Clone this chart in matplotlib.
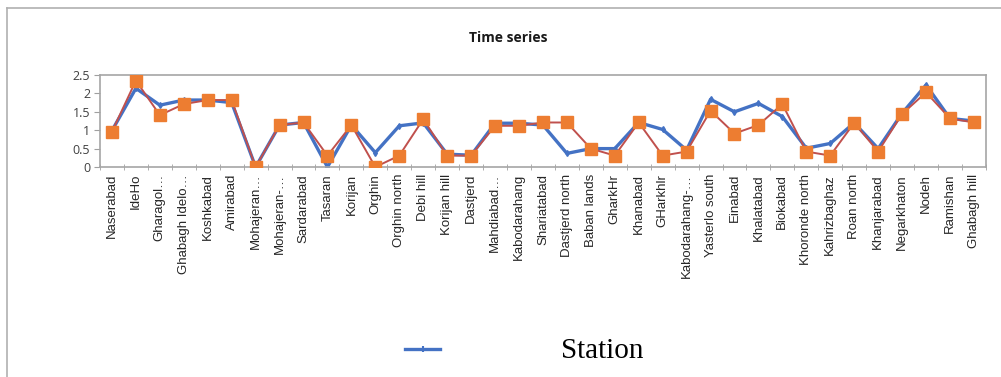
import matplotlib.pyplot as plt
from matplotlib.lines import Line2D

stations = ['Naserabad', 'IdeHo', 'Gharagol…', 'Ghabagh Idelo…', 'Koshkabad',
            'Amirabad', 'Mohajeran…', 'Mohajeran-…', 'Sardarabad', 'Tasaran',
            'Korijan', 'Orghin', 'Orghin north', 'Debi hill', 'Korijan hill',
            'Dastjerd', 'Mahdiabad…', 'Kabodarahang', 'Shariatabad',
            'Dastjerd north', 'Baban lands', 'GharkHr', 'Khanabad', 'GHarkhlr',
            'Kabodarahang-…', 'Yasterlo south', 'Einabad', 'Khalatabad',
            'Biokabad', 'Khoronde north', 'Kahrizbaghaz', 'Roan north',
            'Khanjarabad', 'Negarkhaton', 'Nodeh', 'Ramishan', 'Ghabagh hill']

observed = [0.99, 2.14, 1.68, 1.82, 1.82, 1.75, 0.0, 1.14, 1.21, 0.0,
            1.14, 0.39, 1.12, 1.20, 0.35, 0.32, 1.19, 1.19, 1.14, 0.37,
            0.50, 0.50, 1.21, 1.02, 0.46, 1.84, 1.50, 1.73, 1.37, 0.51,
            0.64, 1.20, 0.50, 1.46, 2.23, 1.32, 1.25]

predicted = [0.96, 2.35, 1.41, 1.71, 1.82, 1.82, 0.0, 1.14, 1.21, 0.31,
             1.14, 0.0, 0.31, 1.30, 0.31, 0.31, 1.12, 1.12, 1.21, 1.21,
             0.50, 0.31, 1.21, 0.31, 0.42, 1.53, 0.91, 1.14, 1.71, 0.42,
             0.31, 1.20, 0.42, 1.44, 2.03, 1.32, 1.21]

yticks = [0, 0.5, 1, 1.5, 2, 2.5]
ytick_labels = ['0', '0.5', '1', '1.5', '2', '2.5']

plt.rcParams['font.family'] = ['Open Sans', 'DejaVu Sans']

fig = plt.figure(figsize=(10.01, 3.77), dpi=100)
ax = fig.add_axes([0.0999, 0.557, 0.885, 0.244])

x = list(range(len(stations)))
ax.plot(x, observed, color='#4472C4', lw=2.4, marker='d', ms=3, zorder=2)
ax.plot(x, predicted, color='#C0504D', lw=1.4, marker='s', ms=8.5,
        mfc='#ED7D31', mec='#ED7D31', zorder=3)

ax.set_xlim(-0.5, len(stations) - 0.5)
ax.set_ylim(0, 2.5)
ax.set_yticks(yticks)
ax.set_yticklabels(ytick_labels, fontsize=9, color='#404040')
ax.set_xticks(x)
ax.set_xticklabels(stations, rotation=90, fontsize=9.5, color='#262626',
                   family='Liberation Sans')
ax.set_xticks([i - 0.5 for i in range(len(stations) + 1)], minor=True)
ax.tick_params(axis='x', which='major', length=0, pad=5)
ax.tick_params(axis='x', which='minor', length=5, color='#a0a0a0',
               direction='inout')
ax.tick_params(axis='y', length=4, color='#a0a0a0', pad=3)
for spine in ax.spines.values():
  spine.set_color('#a6a6a6')
  spine.set_linewidth(1.2)

fig.text(0.508, 0.9, 'Time series', ha='center', va='center',
         fontsize=10, fontweight='bold', color='#1a1a1a')

# legend: only the blue series, drawn in Excel's odd spacing
fig.add_artist(Line2D([0.405, 0.4225, 0.44], [0.073, 0.073, 0.073],
                      color='#4472C4', lw=2.4, marker='|', markevery=[1],
                      ms=5, mew=1.5))
fig.text(0.56, 0.068, 'Station', ha='left', va='center', fontsize=21,
         family='Liberation Serif', color='black')

# outer chart frame (left and top edges visible)
fig.add_artist(Line2D([0.007, 0.007], [0.0, 0.979], color='#b0b0b0', lw=1.2))
fig.add_artist(Line2D([0.007, 1.0], [0.979, 0.979], color='#b0b0b0', lw=1.2))

fig.savefig('out.png', dpi=100)
